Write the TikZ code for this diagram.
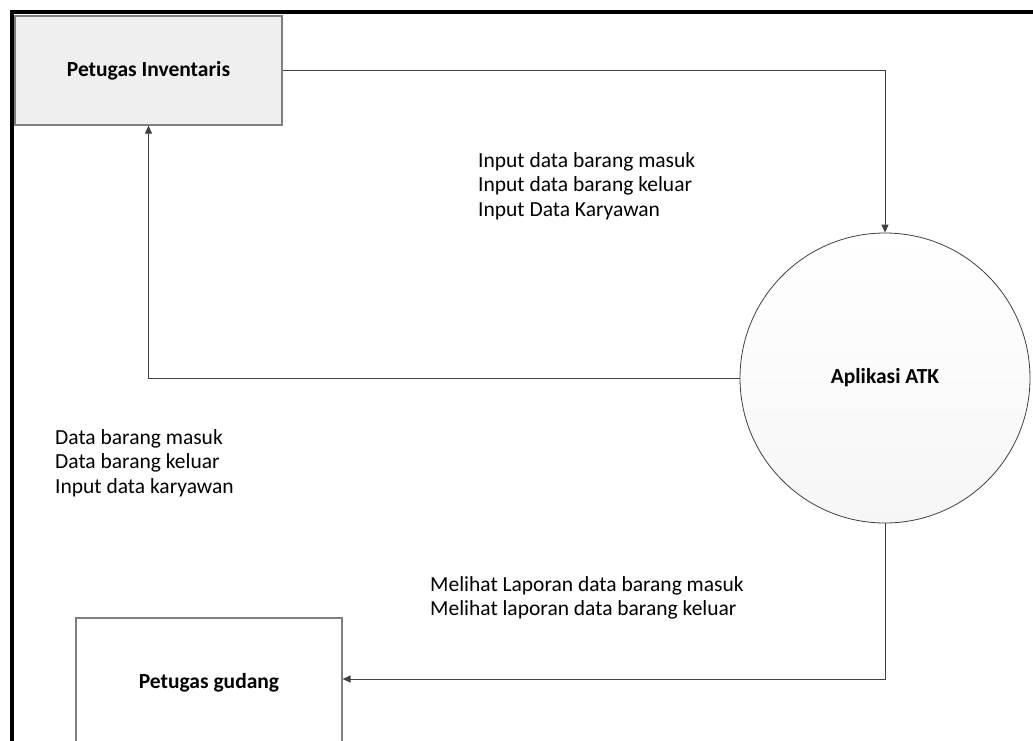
\documentclass[tikz,border=0pt]{standalone}
\usepackage{fontspec}
\setmainfont{Carlito}
\usetikzlibrary{arrows.meta,calc}
\definecolor{linec}{HTML}{404040}
\definecolor{boxborder}{HTML}{7F7F7F}
\definecolor{boxfill}{HTML}{EFEFEF}
\tikzset{
  boldtext/.style={font=\fontsize{21.5}{25}\selectfont\bfseries},
  entity/.style={draw=boxborder, line width=1.2pt, inner sep=0pt, boldtext},
  proc/.style={circle, draw=linec, line width=0.8pt, inner sep=0pt, minimum size=290pt,
    top color=white, bottom color=gray!7, boldtext},
  flow/.style={draw=linec, line width=1pt, -{Triangle[length=8pt,width=7pt]}},
  lbl/.style={align=left, inner sep=0pt, anchor=west, font=\fontsize{21.5}{24.5}\selectfont}
}
\begin{document}
\begin{tikzpicture}[x=1pt,y=-1pt]
\useasboundingbox (0,0) rectangle (1033,740);
\clip (0,0) rectangle (1033,740);
\fill[white] (0,0) rectangle (1033,740);
% frame
\draw[line width=4pt, black] (12,750) -- (12,12) -- (1045,12);
% nodes
\node[entity, fill=boxfill, minimum width=267pt, minimum height=109pt] (pi) at (148.5,70.5) {Petugas Inventaris};
\node[entity, fill=white, minimum width=266pt, minimum height=130pt] (pg) at (209,683) {};
\node[boldtext] (pgt) at (209,683) {Petugas gudang};
\node[proc] (atk) at (885,378) {Aplikasi ATK};
% labels
\node[lbl] (l1) at (478,186) {Input data barang masuk\\Input data barang keluar\\Input Data Karyawan};
\node[lbl] (l2) at (55,463) {Data barang masuk\\Data barang keluar\\Input data karyawan};
\node[lbl] (l3) at (430,598) {Melihat Laporan data barang masuk\\Melihat laporan data barang keluar};
% flows
\draw[flow] (pi.east) -| (atk.north);
\draw[flow] (atk.west) -| (pi.south);
\draw[flow] (atk.south) |- ([yshift=4pt]pg.east);
\end{tikzpicture}
\end{document}
